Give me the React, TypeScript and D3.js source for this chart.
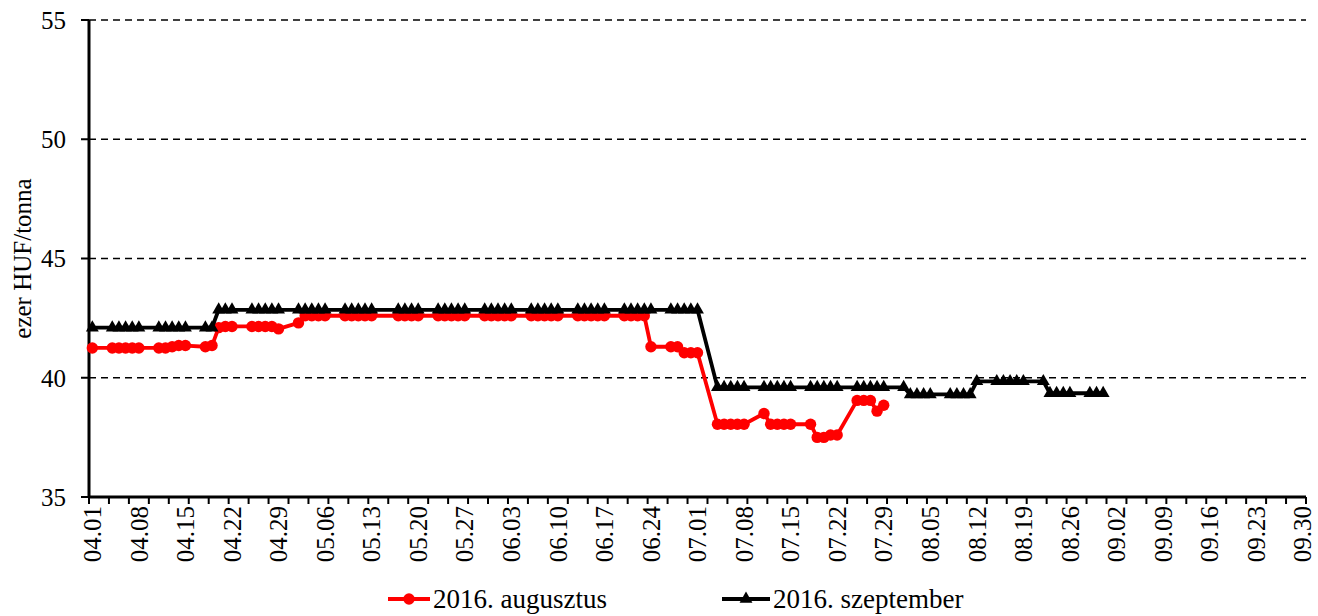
import * as d3 from "d3";

// calendar slots on the category axis (one per day)
const fmtDay = d3.timeFormat("%m.%d");
const categories = d3.timeDay
  .range(new Date(2016, 3, 1), new Date(2016, 9, 1))
  .map(fmtDay);

const tickLabels = [
  "04.01", "04.08", "04.15", "04.22", "04.29", "05.06", "05.13", "05.20", "05.27",
  "06.03", "06.10", "06.17", "06.24", "07.01", "07.08", "07.15", "07.22", "07.29",
  "08.05", "08.12", "08.19", "08.26", "09.02", "09.09", "09.16", "09.23", "09.30",
];

const yTicks = [35, 40, 45, 50, 55];
const gridValues = [40, 45, 50, 55];

// trading days with quotes
const days = [
  "04.01", "04.04", "04.05", "04.06", "04.07", "04.08", "04.11", "04.12", "04.13", "04.14", "04.15",
  "04.18", "04.19", "04.20", "04.21", "04.22", "04.25", "04.26", "04.27", "04.28", "04.29",
  "05.02", "05.03", "05.04", "05.05", "05.06", "05.09", "05.10", "05.11", "05.12", "05.13",
  "05.17", "05.18", "05.19", "05.20", "05.23", "05.24", "05.25", "05.26", "05.27", "05.30", "05.31",
  "06.01", "06.02", "06.03", "06.06", "06.07", "06.08", "06.09", "06.10", "06.13", "06.14", "06.15",
  "06.16", "06.17", "06.20", "06.21", "06.22", "06.23", "06.24", "06.27", "06.28", "06.29", "06.30",
  "07.01", "07.04", "07.05", "07.06", "07.07", "07.08", "07.11", "07.12", "07.13", "07.14", "07.15",
  "07.18", "07.19", "07.20", "07.21", "07.22", "07.25", "07.26", "07.27", "07.28", "07.29",
  "08.01", "08.02", "08.03", "08.04", "08.05", "08.08", "08.09", "08.10", "08.11", "08.12",
  "08.15", "08.16", "08.17", "08.18", "08.19", "08.22", "08.23", "08.24", "08.25", "08.26",
  "08.29", "08.30", "08.31",
];

// 2016. augusztus (ends 07.29)
const augusztus = [
  41.25, 41.25, 41.25, 41.25, 41.25, 41.25, 41.25, 41.25, 41.3, 41.35, 41.35,
  41.3, 41.35, 42.1, 42.15, 42.15, 42.15, 42.15, 42.15, 42.15, 42.05,
  42.3, 42.6, 42.6, 42.6, 42.6, 42.6, 42.6, 42.6, 42.6, 42.6,
  42.6, 42.6, 42.6, 42.6, 42.6, 42.6, 42.6, 42.6, 42.6, 42.6, 42.6,
  42.6, 42.6, 42.6, 42.6, 42.6, 42.6, 42.6, 42.6, 42.6, 42.6, 42.6,
  42.6, 42.6, 42.6, 42.6, 42.6, 42.6, 41.3, 41.3, 41.3, 41.05, 41.05,
  41.05, 38.05, 38.05, 38.05, 38.05, 38.05, 38.5, 38.05, 38.05, 38.05, 38.05,
  38.05, 37.5, 37.5, 37.6, 37.6, 39.05, 39.05, 39.05, 38.6, 38.85,
];

// 2016. szeptember
const szeptember = [
  42.1, 42.1, 42.1, 42.1, 42.1, 42.1, 42.1, 42.1, 42.1, 42.1, 42.1,
  42.1, 42.1, 42.85, 42.85, 42.85, 42.85, 42.85, 42.85, 42.85, 42.85,
  42.85, 42.85, 42.85, 42.85, 42.85, 42.85, 42.85, 42.85, 42.85, 42.85,
  42.85, 42.85, 42.85, 42.85, 42.85, 42.85, 42.85, 42.85, 42.85, 42.85, 42.85,
  42.85, 42.85, 42.85, 42.85, 42.85, 42.85, 42.85, 42.85, 42.85, 42.85, 42.85,
  42.85, 42.85, 42.85, 42.85, 42.85, 42.85, 42.85, 42.85, 42.85, 42.85, 42.85,
  42.85, 39.6, 39.6, 39.6, 39.6, 39.6, 39.6, 39.6, 39.6, 39.6, 39.6,
  39.6, 39.6, 39.6, 39.6, 39.6, 39.6, 39.6, 39.6, 39.6, 39.6,
  39.6, 39.3, 39.3, 39.3, 39.3, 39.3, 39.3, 39.3, 39.3, 39.85,
  39.85, 39.85, 39.85, 39.85, 39.85, 39.85, 39.35, 39.35, 39.35, 39.35,
  39.35, 39.35, 39.35,
];

const W = 1318;
const H = 616;
const PLOT = { left: 89, right: 1306, top: 20, bottom: 497 };
const FONT = "'Liberation Serif', 'Times New Roman', serif";
const RED = "#FF0000";

type Pt = [string, number];

export default function App() {
  const x = d3.scaleBand<string>().domain(categories).range([PLOT.left, PLOT.right]).padding(0);
  const cx = (d: string) => (x(d) ?? 0) + x.bandwidth() / 2;
  const y = d3.scaleLinear().domain([35, 55]).range([PLOT.bottom, PLOT.top]);

  const augPts: Pt[] = augusztus.map((v, i) => [days[i], v]);
  const szepPts: Pt[] = szeptember.map((v, i) => [days[i], v]);

  const line = d3
    .line<Pt>()
    .x((d) => cx(d[0]))
    .y((d) => y(d[1]));

  const tri = d3.symbol(d3.symbolTriangle, 72)() as string;

  // minor tick marks every 3 days on category boundaries
  const xTickPos = categories
    .map((c, i) => (i % 3 === 0 ? (x(c) as number) : null))
    .filter((v) => v !== null) as number[];
  xTickPos.push(PLOT.right);

  return (
    <>
      <style>{`body{margin:0}`}</style>
      <svg width={W} height={H} style={{ display: "block", background: "#fff" }} fontFamily={FONT}>
        {/* grid */}
        {gridValues.map((v) => (
          <line
            key={`g${v}`}
            x1={PLOT.left}
            x2={PLOT.right}
            y1={y(v)}
            y2={y(v)}
            stroke="#000"
            strokeWidth={1.3}
            strokeDasharray="7,5"
          />
        ))}

        {/* y axis */}
        <line x1={PLOT.left} x2={PLOT.left} y1={PLOT.top} y2={PLOT.bottom} stroke="#000" strokeWidth={3} />
        {yTicks.map((v) => (
          <g key={`y${v}`}>
            <line x1={PLOT.left - 8} x2={PLOT.left} y1={y(v)} y2={y(v)} stroke="#000" strokeWidth={2} />
            <text x={66} y={y(v)} dy="0.35em" textAnchor="end" fontSize={25} fill="#000">
              {v}
            </text>
          </g>
        ))}
        <text
          transform={`translate(22,${(PLOT.top + PLOT.bottom) / 2}) rotate(-90)`}
          textAnchor="middle"
          dy="0.35em"
          fontSize={25}
          fill="#000"
        >
          ezer HUF/tonna
        </text>

        {/* x axis */}
        <line x1={PLOT.left} x2={PLOT.right} y1={PLOT.bottom} y2={PLOT.bottom} stroke="#000" strokeWidth={3} />
        {xTickPos.map((px, i) => (
          <line key={`t${i}`} x1={px} x2={px} y1={PLOT.bottom} y2={PLOT.bottom + 7} stroke="#000" strokeWidth={2} />
        ))}
        {tickLabels.map((d) => (
          <text
            key={`l${d}`}
            transform={`translate(${cx(d)},${PLOT.bottom + 9}) rotate(-90)`}
            textAnchor="end"
            dy="0.35em"
            fontSize={25}
            fill="#000"
          >
            {d}
          </text>
        ))}

        {/* 2016. augusztus */}
        <path d={line(augPts) ?? ""} fill="none" stroke={RED} strokeWidth={3.8} strokeLinejoin="round" />
        {augPts.map((d) => (
          <circle key={`a${d[0]}`} cx={cx(d[0])} cy={y(d[1])} r={5.7} fill={RED} />
        ))}

        {/* 2016. szeptember */}
        <path d={line(szepPts) ?? ""} fill="none" stroke="#000" strokeWidth={3.8} strokeLinejoin="round" />
        {szepPts.map((d) => (
          <path key={`s${d[0]}`} d={tri} transform={`translate(${cx(d[0])},${y(d[1])})`} fill="#000" />
        ))}

        {/* legend */}
        <g transform="translate(0,599)">
          <line x1={388} x2={430} y1={0} y2={0} stroke={RED} strokeWidth={3.8} />
          <circle cx={409} cy={0} r={5.7} fill={RED} />
          <text x={433} y={0} dy="0.35em" fontSize={27} fill="#000">
            2016. augusztus
          </text>
          <line x1={722} x2={770} y1={0} y2={0} stroke="#000" strokeWidth={3.8} />
          <path d={tri} transform="translate(746,0)" fill="#000" />
          <text x={773} y={0} dy="0.35em" fontSize={27} fill="#000">
            2016. szeptember
          </text>
        </g>
      </svg>
    </>
  );
}
